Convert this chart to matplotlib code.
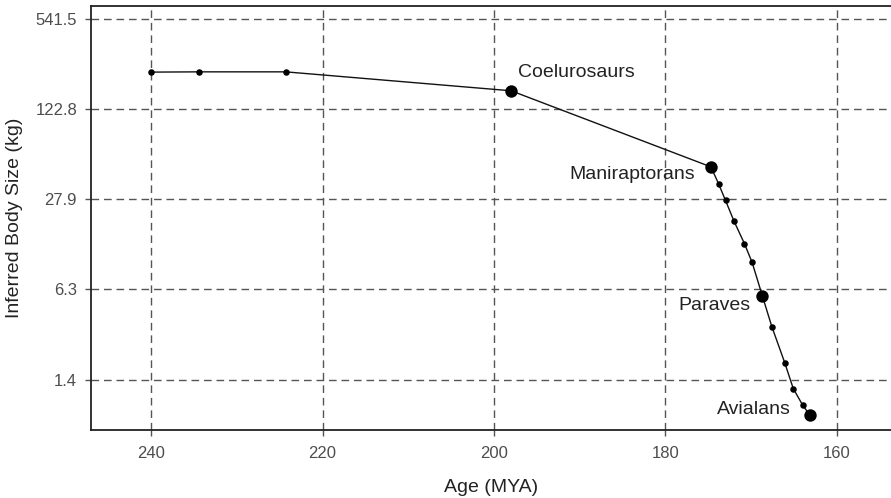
import matplotlib
matplotlib.use("Agg")
import matplotlib.pyplot as plt
import numpy as np

plt.rcParams['font.family'] = ['Liberation Sans', 'DejaVu Sans']

ages = [240.0, 234.4, 224.3, 198.0, 174.7, 173.8, 173.0, 172.0, 170.8, 169.9,
        168.7, 167.6, 166.1, 165.1, 164.0, 163.2]
sizes = [226, 227, 227, 166, 47.2, 35.6, 27.1, 19.2, 13.3, 9.74,
         5.59, 3.37, 1.86, 1.21, 0.92, 0.786]
major = [False, False, False, True, True, False, False, False, False, False,
         True, False, False, False, False, True]

labels = ["Coelurosaurs", "Maniraptorans", "Paraves", "Avialans"]
label_idx = [3, 4, 10, 15]
label_offsets = [(7, 18), (-16, -8), (-12, -10), (-19, 5)]
label_ha = ["left", "right", "right", "right"]

ytick_vals = [1.4, 6.3, 27.9, 122.8, 541.5]
ytick_labels = ["1.4", "6.3", "27.9", "122.8", "541.5"]
xtick_vals = [240, 220, 200, 180, 160]

fig = plt.figure(figsize=(8.91, 4.98), dpi=100)
ax = fig.add_axes([91/891, 1 - 430/498, 800/891, (430 - 6)/498])

ax.set_yscale('log')
ax.set_xlim(247.0, 153.7)
ax.set_ylim(0.61, 674)

ax.plot(ages, sizes, color='#111111', lw=1.0, zorder=3)
small_x = [a for a, m in zip(ages, major) if not m]
small_y = [s for s, m in zip(sizes, major) if not m]
big_x = [a for a, m in zip(ages, major) if m]
big_y = [s for s, m in zip(sizes, major) if m]
ax.scatter(small_x, small_y, s=22, color='black', zorder=4, linewidths=0)
ax.scatter(big_x, big_y, s=80, color='black', zorder=4, linewidths=0)

for lab, i, off, ha in zip(labels, label_idx, label_offsets, label_ha):
    ax.annotate(lab, (ages[i], sizes[i]), xytext=off, textcoords='offset pixels',
                ha=ha, va='center', fontsize=14, color='#222222')

ax.set_yticks(ytick_vals)
ax.set_yticklabels(ytick_labels)
ax.yaxis.set_minor_locator(matplotlib.ticker.NullLocator())
ax.set_xticks(xtick_vals)

ax.grid(True, which='major', color='#555555', linestyle=(0, (5.5, 3.5)), linewidth=1.0)
ax.set_axisbelow(True)

for side in ['top', 'left', 'bottom']:
    ax.spines[side].set_color('#222222')
    ax.spines[side].set_linewidth(1.3)
ax.spines['right'].set_visible(False)

ax.tick_params(axis='y', labelsize=12, labelcolor='#4d4d4d', color='#555555',
               length=4.5, width=1.0, pad=5.5)
ax.tick_params(axis='x', labelsize=12, labelcolor='#4d4d4d', color='#555555',
               length=4.5, width=1.0, pad=7)
ax.set_xlabel('Age (MYA)', fontsize=14, color='#222222', labelpad=13)
ax.set_ylabel('Inferred Body Size (kg)', fontsize=14, color='#222222', labelpad=9)

fig.savefig('out.png', dpi=100)
